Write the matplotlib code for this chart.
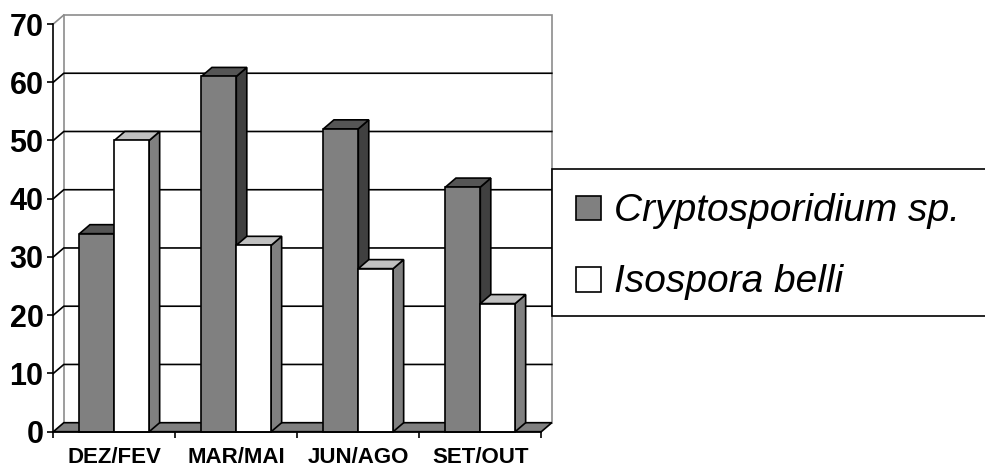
import matplotlib
matplotlib.use("Agg")
import matplotlib.pyplot as plt
from matplotlib.patches import Polygon, Rectangle

periods = ["DEZ/FEV", "MAR/MAI", "JUN/AGO", "SET/OUT"]
series_names = ["Cryptosporidium sp.", "Isospora belli"]
crypto = [34, 61, 52, 42]
isospora = [50, 32, 28, 22]
y_ticks = [0, 10, 20, 30, 40, 50, 60, 70]

W, H = 985, 469
plt.rcParams["font.family"] = ["Liberation Sans", "DejaVu Sans"]

fig = plt.figure(figsize=(W / 100, H / 100), dpi=100)

# plot box in pixels (front plane): x 53..541, y 431.7 (zero) .. 24 (70)
px_per_x = 122.0
px_per_y = (431.7 - 24.0) / 70.0
x_max, y_max = 4.2, 72.0
left_px, zero_px = 53.3, 431.7
ax = fig.add_axes([left_px / W, (H - zero_px) / H,
                   x_max * px_per_x / W, y_max * px_per_y / H])
ax.set_xlim(0, x_max)
ax.set_ylim(0, y_max)
ax.patch.set_visible(False)

# 3-D depth offset, converted from pixels to data units
DX = 10.5 / px_per_x
DY = 9.0 / px_per_y
n = len(periods)
lw = 1.2

# back wall and left side wall
wall_edge = "#8c8c8c"
ax.add_patch(Rectangle((DX, DY), n, 70, facecolor="white", edgecolor=wall_edge,
                       lw=lw, clip_on=False, zorder=1))
ax.plot([0, DX], [70, 70 + DY], color=wall_edge, lw=lw, clip_on=False, zorder=1)
for v in y_ticks[1:-1]:
    ax.plot([0, DX, n + DX], [v, v + DY, v + DY], color="black", lw=lw,
            clip_on=False, zorder=2)

# floor
ax.add_patch(Polygon([(0, 0), (n, 0), (n + DX, DY), (DX, DY)], closed=True,
                     facecolor="#808080", edgecolor="black", lw=lw,
                     clip_on=False, zorder=3))

bar_w = 1 / 3.5
half_gap = (1 - 2 * bar_w) / 2
styles = [
    {"front": "#808080", "top": "#555555", "side": "#404040"},
    {"front": "#ffffff", "top": "#c0c0c0", "side": "#808080"},
]

z = 4
for i in range(n):
    for k, vals in enumerate([crypto, isospora]):
        x0 = i + half_gap + k * bar_w
        x1 = x0 + bar_w
        v = vals[i]
        st = styles[k]
        ax.add_patch(Polygon([(x1, 0), (x1 + DX, DY), (x1 + DX, v + DY), (x1, v)],
                             closed=True, facecolor=st["side"], edgecolor="black",
                             lw=lw, clip_on=False, zorder=z))
        ax.add_patch(Polygon([(x0, v), (x1, v), (x1 + DX, v + DY), (x0 + DX, v + DY)],
                             closed=True, facecolor=st["top"], edgecolor="black",
                             lw=lw, clip_on=False, zorder=z))
        ax.bar([x0], [v], width=bar_w, align="edge", color=st["front"],
               edgecolor="black", lw=lw, clip_on=False, zorder=z + 0.5)
        z += 1

# axes: front value axis and category axis
for side in ["top", "right"]:
    ax.spines[side].set_visible(False)
ax.spines["left"].set_bounds(0, 70)
ax.spines["bottom"].set_bounds(0, n)
for side in ["left", "bottom"]:
    ax.spines[side].set_linewidth(lw)
    ax.spines[side].set_zorder(50)

ax.set_yticks(y_ticks)
ax.set_yticklabels([str(t) for t in y_ticks], fontsize=22, fontweight="bold")
ax.tick_params(axis="y", length=4, width=lw, pad=3)

ax.set_xticks(range(n + 1))
ax.set_xticklabels([""] * (n + 1))
ax.tick_params(axis="x", which="major", length=4.5, width=lw)
ax.set_xticks([i + 0.5 for i in range(n)], minor=True)
ax.set_xticklabels(periods, minor=True, fontsize=16, fontweight="bold")
ax.tick_params(axis="x", which="minor", length=0, pad=11)


def fx(px):
    return px / W


def fy(py):
    return (H - py) / H


# legend box, running past the right edge
fig.patches.append(Rectangle((fx(552), fy(316)), fx(460), 147 / H,
                             transform=fig.transFigure, facecolor="white",
                             edgecolor="black", lw=lw, zorder=60))
legend_rows = [(220.5, styles[0]["front"]), (291.5, styles[1]["front"])]
for name, (base, color) in zip(series_names, legend_rows):
    fig.patches.append(Rectangle((fx(576), fy(base)), fx(25), 24.5 / H,
                                 transform=fig.transFigure, facecolor=color,
                                 edgecolor="black", lw=lw, zorder=61))
    fig.text(fx(614), fy(base), name, fontsize=28, fontstyle="italic",
             va="baseline", ha="left", zorder=62)

fig.savefig("out.png", dpi=100)
